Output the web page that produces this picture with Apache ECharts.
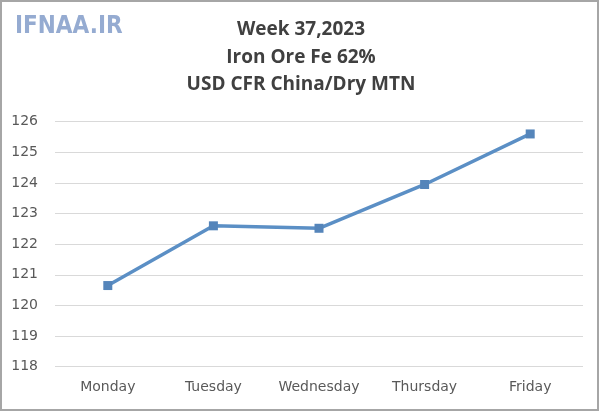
<!DOCTYPE html>
<html>
<head>
<meta charset="utf-8">
<script src="https://cdn.jsdelivr.net/npm/echarts@6/dist/echarts.min.js"></script>
<style>html,body{margin:0;padding:0;background:#fff;}#c{width:600px;height:416px;}</style>
</head>
<body>
<div id="c"></div>
<script>
const categories = ['Monday', 'Tuesday', 'Wednesday', 'Thursday', 'Friday'];
const prices = [120.65, 122.6, 122.52, 123.95, 125.6];
const yMin = 118, yMax = 126, yStep = 1;
const titleLines = ['Week 37,2023', 'Iron Ore Fe 62%', 'USD CFR China/Dry MTN'];
const logoText = 'IFNAA.IR';

const chart = echarts.init(document.getElementById('c'), null, {renderer: 'canvas'});
chart.setOption({
  backgroundColor: '#ffffff',
  animation: false,
  title: {
    text: titleLines.join('\n'),
    left: 301, top: 16, textAlign: 'center', padding: 0,
    textStyle: {fontFamily: 'Open Sans', fontWeight: 'bold', fontSize: 19, color: '#404040', lineHeight: 27.5}
  },
  graphic: [
    {type: 'rect', shape: {x: 1, y: 1, width: 597, height: 409}, style: {fill: 'none', stroke: '#a6a6a6', lineWidth: 2}},
    {type: 'text', left: 15, top: 15, style: {text: logoText, font: 'bold 24px "DejaVu Sans Condensed"', fill: '#8aa2cc', opacity: 0.9}}
  ],
  grid: {left: 55, right: 17, top: 121.7, bottom: 49.3},
  xAxis: {
    type: 'category', data: categories, boundaryGap: true,
    axisLine: {show: false}, axisTick: {show: false},
    axisLabel: {color: '#595959', fontFamily: 'DejaVu Sans', fontSize: 14, margin: 14}
  },
  yAxis: {
    type: 'value', min: yMin, max: yMax, interval: yStep,
    axisLine: {show: false}, axisTick: {show: false},
    axisLabel: {color: '#595959', fontFamily: 'DejaVu Sans', fontSize: 14, margin: 17},
    splitLine: {lineStyle: {color: '#d9d9d9', width: 1}}
  },
  series: [{
    type: 'line', data: prices,
    symbol: 'rect', symbolSize: 9,
    lineStyle: {color: '#5b8fc5', width: 3.5},
    itemStyle: {color: '#5585ba'}
  }]
});
</script>
</body>
</html>
